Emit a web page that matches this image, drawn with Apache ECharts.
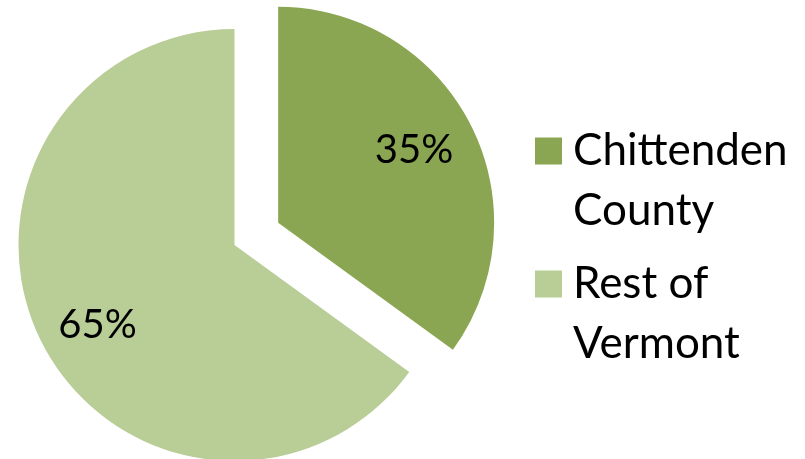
<!DOCTYPE html>
<html>
<head>
<meta charset="utf-8">
<script src="https://cdn.jsdelivr.net/npm/echarts@6/dist/echarts.min.js"></script>
<style>
  html, body { margin: 0; padding: 0; background: #fff; }
  #chart { width: 805px; height: 459px; }
</style>
</head>
<body>
<div id="chart"></div>
<script>
// share of population, percent
const categories = ['Chittenden County', 'Rest of Vermont']
const shares = [35, 65]
const exploded = [true, false]

const colors = ['#8BA652', '#B9CD97']
const FONT = 'Lato'

// per-slice nudge so the % labels sit further out, like the original
const labelNudge = [[37, -22], [-38, 30]]

const chart = echarts.init(document.getElementById('chart'), null, { renderer: 'canvas' })

chart.setOption({
  animation: false,
  backgroundColor: '#fff',
  color: colors,
  legend: {
    orient: 'vertical',
    left: 535,
    top: 61,
    padding: 0,
    itemWidth: 27,
    itemHeight: 27,
    itemGap: -47,
    icon: 'rect',
    selectedMode: false,
    // blank first line keeps the first real line level with the swatch,
    // then break the name at the last space
    formatter: (name) => ' \n' + name.replace(/ (\S+)$/, '\n$1'),
    textStyle: {
      fontFamily: FONT,
      fontSize: 44,
      lineHeight: 60,
      color: '#000',
      padding: [0, 0, 0, 6]
    },
    data: categories
  },
  series: [{
    type: 'pie',
    center: [234.5, 245],
    radius: [0, 216],
    startAngle: 90,
    clockwise: true,
    selectedMode: 'single',
    selectedOffset: 49,
    silent: true,
    emphasis: { disabled: true },
    itemStyle: { borderWidth: 0 },
    label: {
      position: 'inside',
      formatter: '{c}%',
      fontFamily: FONT,
      fontSize: 40,
      color: '#000'
    },
    labelLine: { show: false },
    data: categories.map((name, i) => ({
      name,
      value: shares[i],
      selected: exploded[i],
      itemStyle: { color: colors[i] },
      label: { offset: labelNudge[i] },
      select: {
        itemStyle: { color: colors[i], borderWidth: 0 },
        label: { offset: labelNudge[i] }
      }
    }))
  }]
})
</script>
</body>
</html>
